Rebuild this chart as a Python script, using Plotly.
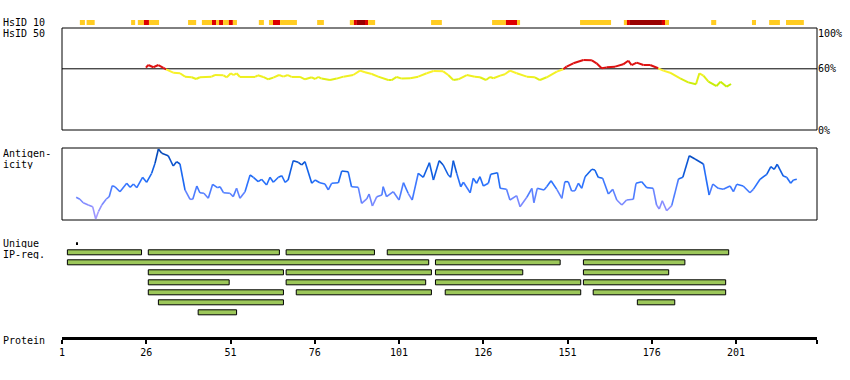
import plotly.graph_objects as go

W, H = 850, 380
FONT = "DejaVu Sans Mono"

# ---------------- data ----------------
PROTEIN_LEN = 225
TICK_POS = [1, 26, 51, 76, 101, 126, 151, 176, 201]

# HsID 10 strip: segment start/end residues and level (1 yellow, 2 red, 3 dark red)
hsid10_start = [6.3, 8.3, 21.5, 23.5, 25.3, 26.8, 38.4, 42.5, 45.5, 46.7, 47.6, 48.8, 50.5, 51.7,
                59.4, 62.4, 63.6, 65.7, 76.7, 86.4, 87.6, 88.5, 90.9, 91.8, 110.5, 128.6, 132.7,
                136.0, 154.7, 167.7, 168.6, 169.5, 179.0, 179.9, 193.6, 205.7, 210.8, 215.8]
hsid10_end = [7.8, 10.7, 22.7, 25.3, 26.8, 29.8, 40.8, 45.5, 46.7, 47.6, 48.8, 50.5, 51.7, 52.9,
              60.9, 63.6, 65.7, 70.7, 78.7, 87.6, 88.5, 90.9, 91.8, 93.9, 113.7, 132.7, 136.0,
              136.9, 163.9, 168.6, 169.5, 179.0, 179.9, 181.1, 195.1, 206.9, 214.0, 221.1]
hsid10_level = [1, 1, 1, 1, 2, 1, 1, 1, 2, 1, 2, 1, 2, 1,
                1, 1, 2, 1, 1, 1, 2, 3, 2, 1, 1, 1, 2,
                1, 1, 1, 2, 3, 2, 1, 1, 1, 1, 1]

# HsID 50 identity (%)
ident_pos = [25.9, 26.6, 28.1, 29.6, 31.1, 31.9, 34.0, 36.0, 37.5, 39.5, 40.8, 41.9, 45.4, 46.4,
             48.9, 49.9, 51.1, 51.8, 52.8, 53.8, 58.3, 59.1, 60.7, 62.2, 63.7, 65.4, 66.7, 68.0,
             69.1, 71.6, 73.1, 75.1, 76.1, 77.0, 78.0, 80.5, 82.5, 84.5, 87.4, 89.4, 90.9, 92.9,
             94.8, 97.8, 98.8, 100.3, 101.8, 104.3, 106.7, 109.2, 111.2, 114.1, 115.6, 117.1,
             118.6, 121.1, 123.5, 125.0, 126.8, 128.0, 129.0, 131.0, 132.4, 133.9, 135.9, 138.9,
             141.3, 142.8, 144.8, 147.8, 149.7, 150.7, 152.7, 155.7, 158.2, 159.6, 161.1, 162.6,
             165.1, 167.5, 169.0, 170.0, 171.5, 173.5, 175.5, 177.9, 179.4, 181.4, 184.4, 186.8,
             189.1, 190.1, 191.3, 192.8, 195.2, 196.4, 198.2, 199.5]
ident_val = [61.1, 63.7, 61.5, 63.7, 61.0, 59.5, 56.2, 55.6, 52.3, 51.7, 50.0, 51.7, 52.3, 53.9,
             53.6, 51.7, 55.6, 53.9, 55.6, 52.0, 52.0, 53.6, 52.0, 49.7, 51.3, 53.9, 52.3, 53.9,
             52.0, 52.0, 49.7, 51.7, 50.0, 52.0, 50.4, 49.0, 50.4, 52.3, 53.9, 58.2, 56.6, 54.9,
             52.3, 49.0, 49.0, 52.0, 50.4, 50.7, 52.3, 55.6, 57.8, 57.5, 53.9, 49.0,
             49.7, 53.9, 52.3, 51.7, 49.0, 52.0, 50.7, 53.3, 54.6, 58.2, 55.6, 52.3,
             51.7, 49.0, 51.7, 57.2, 59.5, 62.1, 65.4, 68.6, 68.3, 65.4, 60.5, 61.4,
             62.1, 64.4, 67.9, 63.7, 66.1, 63.7, 63.7, 60.5, 58.2, 56.2, 50.7, 46.7,
             44.8, 55.6, 53.3, 47.4, 43.1, 47.4, 42.5, 45.1]

# Antigenicity (relative 0..1)
antig_pos = [5.2, 6.3, 7.3, 8.8, 10.1, 11.0, 11.8, 12.8, 14.1, 15.0, 15.9, 16.7, 18.2, 20.2, 21.2,
             22.2, 23.2, 24.9, 26.1, 27.6, 28.6, 29.6, 30.6, 32.5, 34.0, 35.0, 36.0, 37.5, 39.0,
             39.8, 41.0, 41.9, 43.1, 44.4, 45.7, 47.1, 47.9, 48.9, 50.8, 51.8, 52.8, 53.8, 55.3,
             56.8, 57.8, 59.2, 60.2, 61.7, 62.7, 63.7, 65.2, 66.2, 67.2, 68.1, 69.6, 71.1, 72.1,
             73.1, 75.1, 76.1, 77.5, 79.0, 80.0, 81.0, 83.0, 84.0, 85.9, 86.9, 88.9, 89.9, 91.4,
             92.1, 93.1, 94.4, 95.9, 96.3, 97.3, 99.3, 101.0, 102.3, 103.7, 104.9, 106.7, 108.2,
             110.0, 111.2, 112.9, 114.1, 115.6, 116.3, 117.1, 118.1, 119.3, 120.1, 122.1, 123.0,
             124.0, 125.0, 126.0, 127.5, 128.2, 130.2, 131.0, 132.9, 133.9, 135.9, 136.9, 138.9,
             140.4, 141.0, 142.0, 144.0, 144.8, 146.1, 147.8, 149.3, 150.2, 151.2, 152.2, 153.2,
             154.2, 155.2, 156.2, 158.2, 159.1, 160.1, 161.4, 163.1, 164.4, 165.6, 167.1, 168.5,
             170.5, 171.3, 173.0, 174.5, 176.4, 177.4, 178.2, 179.1, 180.4, 181.9, 183.9, 185.2,
             187.1, 188.8, 191.3, 193.0, 194.1, 195.7, 197.2, 199.2, 200.2, 201.2, 203.1, 205.1,
             206.1, 208.1, 210.1, 211.3, 212.3, 213.2, 215.0, 216.0, 217.2, 218.0, 219.0]
antig_val = [0.315, 0.288, 0.240, 0.208, 0.185, 0.014, 0.115, 0.208, 0.288, 0.324, 0.476, 0.462,
             0.393, 0.510, 0.454, 0.500, 0.449, 0.593, 0.524, 0.649, 0.788, 0.986, 0.926, 0.893,
             0.750, 0.810, 0.778, 0.417, 0.288, 0.288, 0.472, 0.379, 0.371, 0.301, 0.496, 0.449,
             0.462, 0.379, 0.371, 0.324, 0.440, 0.301, 0.393, 0.625, 0.593, 0.532, 0.565, 0.486,
             0.593, 0.524, 0.593, 0.615, 0.524, 0.556, 0.824, 0.801, 0.764, 0.810, 0.510, 0.556,
             0.518, 0.500, 0.417, 0.510, 0.518, 0.681, 0.671, 0.462, 0.454, 0.232, 0.292, 0.361,
             0.194, 0.324, 0.347, 0.462, 0.324, 0.393, 0.278, 0.518, 0.371, 0.278, 0.649, 0.593,
             0.796, 0.556, 0.824, 0.764, 0.625, 0.593, 0.824, 0.649, 0.462, 0.524, 0.379, 0.579,
             0.510, 0.601, 0.472, 0.510, 0.635, 0.657, 0.440, 0.426, 0.278, 0.338, 0.185, 0.315,
             0.440, 0.240, 0.440, 0.417, 0.462, 0.546, 0.426, 0.301, 0.532, 0.532, 0.403, 0.407,
             0.510, 0.440, 0.601, 0.704, 0.694, 0.593, 0.579, 0.361, 0.426, 0.278, 0.208, 0.278,
             0.288, 0.510, 0.532, 0.449, 0.440, 0.208, 0.153, 0.268, 0.129, 0.199, 0.569, 0.593,
             0.893, 0.847, 0.778, 0.347, 0.500, 0.440, 0.426, 0.472, 0.393, 0.496, 0.472, 0.379,
             0.426, 0.565, 0.635, 0.740, 0.704, 0.774, 0.611, 0.593, 0.510, 0.556, 0.565]

# Unique IP-regions
ipreg_row = [0, 0, 0, 0,
             1, 1, 1,
             2, 2, 2, 2,
             3, 3, 3, 3,
             4, 4, 4, 4,
             5, 5,
             6]
ipreg_start = [2.6, 26.6, 67.5, 97.5,
               2.6, 111.8, 155.7,
               26.6, 67.5, 111.8, 155.7,
               26.6, 67.5, 111.8, 155.7,
               26.6, 70.5, 114.7, 158.6,
               29.6, 171.7,
               41.4]
ipreg_end = [24.6, 65.5, 93.7, 198.8,
             109.8, 148.8, 185.8,
             66.7, 110.6, 137.7, 181.0,
             50.6, 108.9, 154.9, 197.9,
             66.7, 110.6, 154.9, 197.9,
             66.7, 182.8,
             52.8]
unique_pos = [5.4]

# ---------------- helpers ----------------
def pp(py):
    return 1 - py / H


def lerp_color(stops, v):
    if v <= stops[0][0]:
        c = stops[0][1]
    elif v >= stops[-1][0]:
        c = stops[-1][1]
    else:
        for (a, ca), (b, cb) in zip(stops[:-1], stops[1:]):
            if a <= v <= b:
                t = (v - a) / (b - a)
                c = tuple(ca[k] + (cb[k] - ca[k]) * t for k in range(3))
                break
    return "rgb(%d,%d,%d)" % tuple(int(round(x)) for x in c)


IDENT_STOPS = [(42, (190, 236, 0)), (48, (210, 238, 15)), (52, (238, 240, 30)), (59.9, (255, 242, 50))]
ANTIG_STOPS = [(0.0, (175, 160, 255)), (0.2, (135, 140, 255)), (0.35, (95, 130, 255)),
               (0.5, (45, 115, 255)), (0.65, (20, 100, 235)), (0.8, (10, 82, 205)), (1.0, (0, 65, 170))]


def ident_color(v):
    if v >= 60:
        return "#dd1111"
    return lerp_color(IDENT_STOPS, round(v))


def antig_color(v):
    return lerp_color(ANTIG_STOPS, round(v * 20) / 20)


def segment_traces(xs, ys, colfn, yaxis, width):
    groups = {}
    for i in range(len(xs) - 1):
        c = colfn((ys[i] + ys[i + 1]) / 2)
        gx, gy = groups.setdefault(c, ([], []))
        gx += [xs[i], xs[i + 1], None]
        gy += [ys[i], ys[i + 1], None]
    out = []
    for c, (gx, gy) in groups.items():
        out.append(go.Scatter(x=gx, y=gy, mode="lines", yaxis=yaxis, xaxis="x",
                              line=dict(color=c, width=width), hoverinfo="skip",
                              showlegend=False))
    return out


fig = go.Figure()

# identity line
for t in segment_traces(ident_pos, ident_val, ident_color, "y", 2):
    fig.add_trace(t)

# antigenicity line
for t in segment_traces(antig_pos, antig_val, antig_color, "y2", 1.6):
    fig.add_trace(t)

# IP regions
fig.add_trace(go.Bar(orientation="h", y=ipreg_row, base=ipreg_start,
                     x=[e - s for s, e in zip(ipreg_start, ipreg_end)],
                     width=0.5, xaxis="x", yaxis="y3",
                     marker=dict(color="#9cc75a", line=dict(color="black", width=1)),
                     hoverinfo="skip", showlegend=False))
fig.add_trace(go.Bar(orientation="h", y=[-0.94], base=unique_pos, x=[0.3], width=0.42,
                     xaxis="x", yaxis="y3", marker=dict(color="black", line=dict(width=0)),
                     hoverinfo="skip", showlegend=False))

# HsID 10 strip
LEVEL_COLORS = {1: "#ffcc22", 2: "#dd0000", 3: "#990000"}
fig.add_trace(go.Bar(orientation="h", y=[0] * len(hsid10_start), base=hsid10_start,
                     x=[e - s for s, e in zip(hsid10_start, hsid10_end)], width=1,
                     xaxis="x", yaxis="y4",
                     marker=dict(color=[LEVEL_COLORS[l] for l in hsid10_level], line=dict(width=0)),
                     hoverinfo="skip", showlegend=False))

x0p, x1p = 62, 817
fig.update_layout(
    width=W, height=H, margin=dict(l=0, r=0, t=0, b=0, autoexpand=False),
    paper_bgcolor="white", plot_bgcolor="white", showlegend=False, barmode="overlay",
    font=dict(family=FONT, size=10, color="black"),
    xaxis=dict(domain=[x0p / W, x1p / W], range=[1, PROTEIN_LEN], anchor="free",
               position=pp(338), showgrid=False, zeroline=False, showline=True,
               linecolor="black", linewidth=3, ticks="outside", ticklen=4, tickwidth=2,
               tickcolor="black", tickvals=TICK_POS + [PROTEIN_LEN],
               ticktext=[str(t) for t in TICK_POS] + [""], automargin=False,
               tickfont=dict(family=FONT, size=10, color="black")),
    yaxis=dict(domain=[pp(130), pp(28)], range=[0, 100], visible=False, fixedrange=True),
    yaxis2=dict(domain=[pp(220), pp(148)], range=[0, 1], visible=False),
    yaxis3=dict(domain=[pp(322.3), pp(242.3)], range=[7, -1], visible=False),
    yaxis4=dict(domain=[pp(25), pp(20)], range=[-0.5, 0.5], visible=False),
)

# panel boxes and 60% line
fig.add_shape(type="rect", xref="x domain", yref="y domain", x0=0, x1=1, y0=0, y1=1,
              line=dict(color="black", width=1), fillcolor="rgba(0,0,0,0)", layer="below")
fig.add_shape(type="line", xref="x domain", yref="y", x0=0, x1=1, y0=60, y1=60,
              line=dict(color="black", width=1), layer="below")
fig.add_shape(type="rect", xref="x domain", yref="y2 domain", x0=0, x1=1, y0=0, y1=1,
              line=dict(color="black", width=1), fillcolor="rgba(0,0,0,0)", layer="below")

# right-side percent labels
for val, txt, shift in [(100, "100%", -5), (60, "60%", 0), (0, "0%", 0)]:
    fig.add_annotation(xref="x domain", yref="y", x=1, y=val, text=txt, showarrow=False,
                       xanchor="left", yanchor="middle", xshift=0, yshift=shift, borderpad=0,
                       font=dict(family=FONT, size=10, color="black"))

# left labels
for txt, py in [("HsID 10", 22), ("HsID 50", 33), ("Antigen-", 153), ("icity", 163.5),
                ("Unique", 242.5), ("IP-reg.", 253.5), ("Protein", 340)]:
    fig.add_annotation(xref="paper", yref="paper", x=2 / W, y=pp(py), text=txt, showarrow=False,
                       xanchor="left", yanchor="middle", borderpad=0, height=10,
                       font=dict(family=FONT, size=10, color="black"))

fig.write_html("out.html", config={"displayModeBar": False},
               post_script="document.body.style.margin='0';document.body.style.padding='0';"
                           "document.body.style.overflow='hidden';")
